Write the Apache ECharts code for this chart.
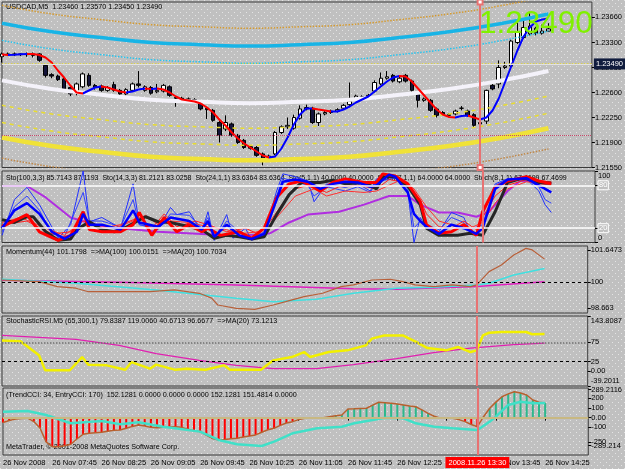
<!DOCTYPE html>
<html>
<head>
<meta charset="utf-8">
<script src="https://cdn.jsdelivr.net/npm/echarts@6/dist/echarts.min.js"></script>
<style>
html, body { margin: 0; padding: 0; background: #c0c0c0; }
#chart { width: 625px; height: 469px; }
</style>
</head>
<body>
<div id="chart"></div>
<script>
var FONT = 'Liberation Sans';

// time axis: 5 minute bars from 07:05
var cats = [];
for (var i = 0; i < 96; i++) {
    var m = 7 * 60 + 5 + 5 * i;
    cats.push(('0' + Math.floor(m / 60)).slice(-2) + ':' + ('0' + (m % 60)).slice(-2));
}
var timeTicks = ['26 Nov 2008', '26 Nov 07:45', '26 Nov 08:25', '26 Nov 09:05', '26 Nov 09:45', '26 Nov 10:25',
    '26 Nov 11:05', '26 Nov 11:45', '26 Nov 12:25', '26 Nov 13:05', '26 Nov 13:45', '26 Nov 14:25'];
var markBar = 77;   // 13:30 vertical line

// candles [open, close, low, high]
var ohlc = [
    [1.2310, 1.2314, 1.2302, 1.2316], [1.2314, 1.2313, 1.2311, 1.2316], [1.2313, 1.2314, 1.2311, 1.2316],
    [1.2314, 1.2313, 1.2311, 1.2315], [1.2313, 1.2314, 1.2310, 1.2316], [1.2314, 1.2312, 1.2309, 1.2316],
    [1.2314, 1.2305, 1.2303, 1.2315], [1.2298, 1.2284, 1.2281, 1.2300], [1.2285, 1.2283, 1.2280, 1.2287],
    [1.2283, 1.2278, 1.2276, 1.2285], [1.2279, 1.2265, 1.2262, 1.2281], [1.2267, 1.2258, 1.2255, 1.2269],
    [1.2259, 1.2272, 1.2256, 1.2274], [1.2268, 1.2286, 1.2266, 1.2288], [1.2284, 1.2270, 1.2268, 1.2287],
    [1.2270, 1.2267, 1.2264, 1.2272], [1.2269, 1.2263, 1.2261, 1.2271], [1.2263, 1.2267, 1.2261, 1.2269],
    [1.2271, 1.2263, 1.2261, 1.2275], [1.2263, 1.2258, 1.2256, 1.2265], [1.2258, 1.2264, 1.2256, 1.2266],
    [1.2263, 1.2272, 1.2261, 1.2274], [1.2272, 1.2270, 1.2267, 1.2290], [1.2263, 1.2268, 1.2261, 1.2270],
    [1.2267, 1.2259, 1.2257, 1.2269], [1.2261, 1.2263, 1.2259, 1.2272], [1.2262, 1.2270, 1.2260, 1.2272],
    [1.2268, 1.2256, 1.2254, 1.2270], [1.2253, 1.2252, 1.2240, 1.2255], [1.2252, 1.2250, 1.2248, 1.2254],
    [1.2250, 1.2251, 1.2248, 1.2253], [1.2250, 1.2248, 1.2246, 1.2252], [1.2247, 1.2237, 1.2235, 1.2249],
    [1.2238, 1.2236, 1.2223, 1.2240], [1.2235, 1.2221, 1.2219, 1.2237], [1.2218, 1.2200, 1.2190, 1.2220],
    [1.2209, 1.2218, 1.2206, 1.2228], [1.2216, 1.2200, 1.2198, 1.2218], [1.2200, 1.2190, 1.2188, 1.2202],
    [1.2193, 1.2183, 1.2181, 1.2195], [1.2184, 1.2182, 1.2180, 1.2186], [1.2183, 1.2172, 1.2170, 1.2185],
    [1.2174, 1.2167, 1.2158, 1.2176], [1.2169, 1.2171, 1.2165, 1.2173], [1.2174, 1.2204, 1.2172, 1.2206],
    [1.2204, 1.2212, 1.2202, 1.2214], [1.2212, 1.2214, 1.2209, 1.2225], [1.2210, 1.2225, 1.2208, 1.2229],
    [1.2224, 1.2237, 1.2222, 1.2242], [1.2237, 1.2239, 1.2235, 1.2243], [1.2238, 1.2218, 1.2216, 1.2240],
    [1.2218, 1.2230, 1.2213, 1.2232], [1.2230, 1.2232, 1.2228, 1.2234], [1.2232, 1.2234, 1.2230, 1.2236],
    [1.2234, 1.2236, 1.2232, 1.2238], [1.2238, 1.2242, 1.2236, 1.2244], [1.2243, 1.2248, 1.2241, 1.2274],
    [1.2251, 1.2255, 1.2249, 1.2257], [1.2254, 1.2252, 1.2250, 1.2256], [1.2252, 1.2256, 1.2250, 1.2258],
    [1.2262, 1.2274, 1.2260, 1.2277], [1.2272, 1.2280, 1.2270, 1.2288], [1.2280, 1.2282, 1.2278, 1.2290],
    [1.2284, 1.2276, 1.2274, 1.2286], [1.2275, 1.2280, 1.2273, 1.2282], [1.2284, 1.2276, 1.2274, 1.2286],
    [1.2276, 1.2263, 1.2261, 1.2278], [1.2258, 1.2249, 1.2239, 1.2260], [1.2249, 1.2251, 1.2247, 1.2253],
    [1.2249, 1.2235, 1.2233, 1.2251], [1.2237, 1.2228, 1.2225, 1.2239], [1.2232, 1.2230, 1.2228, 1.2234],
    [1.2229, 1.2228, 1.2226, 1.2231], [1.2230, 1.2234, 1.2228, 1.2236], [1.2238, 1.2238, 1.2235, 1.2241],
    [1.2234, 1.2228, 1.2226, 1.2236], [1.2229, 1.2214, 1.2212, 1.2231], [1.2216, 1.2218, 1.2213, 1.2220],
    [1.2220, 1.2263, 1.2216, 1.2264], [1.2270, 1.2265, 1.2263, 1.2272], [1.2272, 1.2295, 1.2266, 1.2305],
    [1.2295, 1.2297, 1.2293, 1.2303], [1.2297, 1.2332, 1.2294, 1.2334], [1.2330, 1.2345, 1.2328, 1.2358],
    [1.2337, 1.2351, 1.2335, 1.2362], [1.2342, 1.2353, 1.2340, 1.2372], [1.2350, 1.2343, 1.2340, 1.2352],
    [1.2343, 1.2346, 1.2341, 1.2355], [1.2346, 1.2349, 1.2345, 1.2357]
];

// smoothed MA (red falling / blue rising)
var maLine = [
    1.23132, 1.23125, 1.23128, 1.23135, 1.23140, 1.23139, 1.23125, 1.23090, 1.23020, 1.22908,
    1.22810, 1.22698, 1.22600, 1.22586, 1.22628, 1.22670, 1.22684, 1.22670, 1.22642, 1.22614,
    1.22600, 1.22614, 1.22642, 1.22656, 1.22649, 1.22656, 1.22642, 1.22600, 1.22544, 1.22502,
    1.22488, 1.22474, 1.22446, 1.22390, 1.22320, 1.22222, 1.22138, 1.22040, 1.21956, 1.21886,
    1.21830, 1.21774, 1.21718, 1.21690, 1.21704, 1.21816, 1.21970, 1.22152, 1.22292, 1.22376,
    1.22376, 1.22362, 1.22348, 1.22334, 1.22334, 1.22362, 1.22404, 1.22460, 1.22502, 1.22544,
    1.22614, 1.22684, 1.22754, 1.22810, 1.22831, 1.22824, 1.22754, 1.22656, 1.22558, 1.22460,
    1.22362, 1.22292, 1.22257, 1.22250, 1.22271, 1.22278, 1.22250, 1.22222, 1.22250, 1.22348,
    1.22516, 1.22740, 1.22964, 1.23188, 1.23384, 1.23510, 1.23594, 1.23622, 1.23636
];

// regression channel lines, read at every 8th bar
var bandIdx = [0, 8, 16, 24, 32, 40, 48, 56, 64, 72, 80, 88];
var bandTop = [1.2382, 1.2370, 1.2362, 1.2355, 1.2352, 1.2350, 1.2352, 1.2355, 1.2362, 1.2370, 1.2381, 1.2395];
var bandCyan = [1.2357, 1.2345, 1.2337, 1.2330, 1.2327, 1.2325, 1.2327, 1.2330, 1.2337, 1.2345, 1.2356, 1.2370];
var bandCyanDot = [1.2333, 1.2321, 1.2313, 1.2306, 1.2303, 1.2301, 1.2303, 1.2306, 1.2313, 1.2321, 1.2332, 1.2346];
var bandMid = [1.2277, 1.2265, 1.2257, 1.2250, 1.2247, 1.2245, 1.2247, 1.2250, 1.2257, 1.2265, 1.2276, 1.2290];
var bandLowA = [1.2242, 1.2230, 1.2222, 1.2215, 1.2212, 1.2210, 1.2212, 1.2215, 1.2222, 1.2230, 1.2241, 1.2255];
var bandLowB = [1.2218, 1.2206, 1.2198, 1.2191, 1.2188, 1.2186, 1.2188, 1.2191, 1.2198, 1.2206, 1.2217, 1.2231];
var bandYellow = [1.2197, 1.2185, 1.2177, 1.2170, 1.2167, 1.2165, 1.2167, 1.2170, 1.2177, 1.2185, 1.2196, 1.2210];
var bandBottom = [1.2168, 1.2156, 1.2148, 1.2141, 1.2138, 1.2136, 1.2138, 1.2141, 1.2148, 1.2156, 1.2167, 1.2181];
var priceLevels = [1.2300, 1.2287, 1.2177];
var lastPrice = 1.23490;
var priceTicks = [1.2155, 1.2190, 1.2225, 1.2260, 1.2295, 1.2330, 1.2366];

// stochastics [bar, value]
var stoBlack = [[0,32],[2,28],[4,36],[5,36],[7,15],[9,3],[11,5],[12,18],[14,29],[16,18],[18,15],[20,22],[23,36],[25,29],[27,28],[30,22],[32,18],[34,6],[36,10],[38,8],[40,5],[42,8],[44,39],[46,67],[48,84],[51,84],[53,87],[55,82],[58,84],[60,75],[61,92],[63,92],[65,79],[67,53],[68,20],[70,10],[73,10],[75,13],[77,10],[79,43],[81,84],[83,89],[84,89],[86,84],[88,83]];
var stoRed = [[0,22],[4,39],[6,15],[9,3],[11,10],[13,43],[14,18],[16,15],[19,15],[21,25],[22,42],[24,10],[26,35],[28,15],[30,25],[32,15],[33,20],[35,10],[38,15],[40,6],[42,20],[44,63],[46,82],[48,86],[51,72],[53,84],[55,89],[58,84],[60,84],[61,96],[63,93],[65,82],[67,57],[68,25],[70,13],[72,15],[74,25],[76,10],[77,43],[79,77],[81,86],[84,92],[86,86],[88,82]];
var stoRed2 = [[0,25],[4,30],[8,12],[11,15],[13,35],[16,20],[19,25],[22,35],[24,20],[26,40],[28,22],[31,30],[33,25],[36,15],[39,20],[41,12],[43,30],[45,55],[47,75],[49,80],[52,70],[54,78],[57,80],[60,75],[62,88],[64,85],[66,70],[67,60],[68,40],[70,22],[72,20],[74,30],[76,18],[77,35],[79,65],[81,80],[84,88],[88,85]];
var stoRed3 = [[0,28],[3,35],[7,20],[10,10],[13,30],[15,25],[18,20],[21,30],[23,38],[25,25],[27,30],[30,28],[33,22],[36,18],[38,12],[41,15],[43,25],[45,45],[47,65],[50,75],[52,65],[55,72],[58,70],[60,72],[62,80],[64,88],[66,75],[68,50],[70,30],[72,25],[75,20],[77,28],[79,55],[81,75],[84,85],[88,80]];
var stoBlue = [[0,20],[2,45],[4,55],[6,40],[8,15],[10,5],[12,15],[13,40],[14,25],[16,25],[19,18],[21,45],[22,28],[25,22],[27,35],[30,30],[32,18],[33,30],[34,8],[36,25],[38,10],[40,5],[42,12],[44,60],[45,85],[47,88],[49,85],[51,75],[53,82],[55,85],[57,84],[59,78],[60,80],[62,95],[63,92],[65,70],[66,40],[67,30],[68,22],[70,12],[72,25],[74,20],[76,12],[77,20],[79,75],[81,88],[84,90],[86,80],[88,70]];
var stoBlue2 = [[0,10],[2,60],[4,77],[6,53],[9,6],[11,25],[13,100],[14,29],[16,35],[19,20],[21,82],[22,25],[25,20],[27,49],[28,39],[30,43],[32,15],[33,43],[34,3],[36,39],[37,6],[39,20],[40,3],[42,10],[44,72],[45,96],[47,92],[49,86],[50,57],[52,82],[55,77],[57,82],[59,72],[60,89],[63,92],[65,72],[66,0],[67,35],[68,20],[70,15],[72,42],[74,35],[75,15],[76,13],[77,39],[79,82],[81,89],[84,89],[86,72],[87,53],[88,42]];
var stoBlue3 = [[0,15],[2,50],[4,65],[6,45],[8,12],[10,8],[13,70],[14,30],[16,30],[19,22],[21,60],[22,25],[25,18],[27,40],[30,38],[32,20],[33,35],[34,5],[36,30],[38,15],[40,5],[42,15],[44,65],[45,90],[47,85],[49,80],[50,65],[52,78],[55,72],[57,78],[59,70],[60,85],[63,90],[65,75],[66,20],[67,30],[68,25],[70,18],[72,35],[74,28],[75,18],[77,25],[79,80],[81,88],[84,88],[86,78],[87,60],[88,55]];
var stoPurple = [[0,79],[4,79],[7,63],[11,35],[16,22],[19,20],[25,15],[32,12],[38,9],[43,13],[46,28],[49,39],[54,43],[58,53],[62,65],[65,65],[67,53],[70,42],[73,42],[76,36],[78,43],[81,72],[83,86],[86,86],[88,83]];
var stoLevels = [80, 20];

// momentum
var momMain = [[0,100.11],[6,100.03],[9,99.77],[12,99.69],[14,99.51],[19,99.51],[24,99.51],[28,99.60],[32,99.43],[34,99.18],[35,98.83],[38,98.66],[41,98.61],[44,98.83],[46,99.00],[49,99.26],[52,99.43],[55,99.77],[57,99.86],[60,100.11],[63,100.15],[65,100.03],[67,99.86],[70,99.77],[73,99.86],[76,99.77],[77,99.86],[79,100.54],[81,100.88],[83,101.39],[85,101.73],[86,101.65],[88,101.18]];
var momMA20 = [[0,100.15],[12,99.94],[25,99.60],[38,99.18],[44,99.00],[51,99.12],[57,99.43],[64,99.69],[70,99.74],[77,99.85],[79,99.94],[83,100.37],[88,100.70]];
var momMA100 = [[0,100.10],[19,100.00],[38,99.85],[57,99.66],[64,99.64],[77,99.78],[88,100.02]];

// stochastic RSI
var rsiYellow = [[0,80],[3,77.5],[6,41],[7,2],[11,2],[13,36.5],[14,16.6],[17,14.8],[20,3.5],[21,23.4],[24,6.1],[25,16.6],[28,3.5],[30,6.1],[33,3.5],[36,14.8],[37,3.5],[42,3.5],[44,27.8],[47,36.5],[49,49.5],[50,36.5],[53,49.5],[56,54],[59,67],[60,84.6],[62,93],[65,93],[67,77.5],[69,60],[72,54],[74,62.6],[76,49.5],[77,54],[78,93],[79,100],[81,102],[85,102],[86,96],[88,96.67]];
var rsiMA = [[0,93],[12,82.7],[19,67],[25,45.4],[32,27.8],[38,14.8],[44,6.1],[51,6.1],[57,16.6],[64,32.2],[70,48],[76,60],[83,68.9],[88,73.12]];

// CCI
var cciTrend = [
    -50, -30, -15, -8, -5, -40, -106, -250, -299, -300,
    -290, -274, -220, -171, -160, -155, -150, -140, -130, -127,
    -110, -90, -75, -85, -100, -103, -98, -95, -93, -100,
    -120, -135, -144, -180, -215, -230, -225, -218, -212, -200,
    -190, -178, -150, -125, -109, -80, -55, -41, -20, -6,
    -5, -3, 0, 10, 20, 28, 90, 92, 95, 97,
    130, 159, 155, 148, 140, 130, 120, 113, 80, 45,
    15, -6, -6, -6, -20, -41, -70, -93, 10, 97,
    160, 216, 245, 268, 255, 234, 182, 160, 152.13
];
var cciEntry = [[0,62],[4,69],[7,28],[11,-58],[16,-34],[19,-68],[22,-47],[26,-93],[32,-144],[35,-230],[38,-274],[42,-292],[44,-247],[47,-161],[51,-109],[55,-93],[57,-58],[60,-24],[62,0],[65,-6],[67,-58],[70,-93],[73,-109],[77,-127],[79,-41],[80,10],[82,131],[84,165],[86,148],[88,151.48]];

// ---------------------------------------------------------------
var pat = document.createElement('canvas');
pat.width = 6; pat.height = 6;
var pctx = pat.getContext('2d');
pctx.fillStyle = '#c0c0c0'; pctx.fillRect(0, 0, 6, 6);
pctx.fillStyle = '#e4e4e4'; pctx.fillRect(0, 0, 1, 1); pctx.fillRect(3, 3, 1, 1);

var grids = [
    {top: 2, height: 165.5},
    {top: 171, height: 71.5},
    {top: 246, height: 67},
    {top: 316, height: 70},
    {top: 388, height: 67}
].map(function (g) {
    return {left: 2, width: 593, top: g.top, height: g.height, show: true,
        borderColor: '#3a3a3a', borderWidth: 1, backgroundColor: 'transparent'};
});

var labelStyle = {fontSize: 7.5, fontFamily: FONT, color: '#000'};

var xAxes = grids.map(function (g, k) {
    var bottom = k === 4;
    var every8 = function (idx) { return idx % 8 === 0 && idx <= 88; };
    return {
        type: 'category', gridIndex: k, data: cats, boundaryGap: false,
        axisLine: {show: false},
        axisTick: {show: bottom, interval: every8, length: 3, lineStyle: {color: '#000'}},
        axisLabel: {show: bottom, interval: every8, align: 'left', margin: 4,
            fontSize: 7.5, fontFamily: FONT, color: '#000',
            formatter: function (v, idx) { return timeTicks[idx / 8]; }},
        splitLine: {show: false}
    };
});

function yAx(k, min, max, tickVals, labelVals, fmt) {
    return {
        type: 'value', gridIndex: k, position: 'right', min: min, max: max,
        axisLine: {show: false}, splitLine: {show: false},
        axisTick: {show: true, length: 3, lineStyle: {color: '#000'}, customValues: tickVals},
        axisLabel: Object.assign({margin: 3, hideOverlap: false, customValues: labelVals, formatter: fmt}, labelStyle)
    };
}
function near(v, x) { return Math.abs(v - x) < 1e-6; }

// edge labels sit a few pixels inside the panel, as in the terminal
var stoLabelPos = [6.5, 93.5];
var rsiLabelPos = [-27.2, 0, 25, 75, 131.8];

var yAxes = [
    yAx(0, 1.2155, 1.23867, priceTicks, priceTicks, function (v) { return v.toFixed(5); }),
    yAx(1, 0, 100, [0, 20, 80, 100], stoLabelPos, function (v) { return v > 50 ? '100' : '0'; }),
    yAx(2, 98.42, 101.852, [98.663, 100, 101.6473], [98.663, 100, 101.6473], function (v) { return near(v, 100) ? '100' : String(v); }),
    yAx(3, -39.2011, 143.8087, [-39.2011, 0, 25, 75, 143.8087], rsiLabelPos, function (v) {
        if (near(v, 131.8)) return '143.8087';
        if (near(v, -27.2)) return '-39.2011';
        return near(v, 0) ? '0.00' : String(v);
    }),
    yAx(4, -385, 306, [-300, -289.214, -250, -100, 0, 100, 200, 289.2116], [-300, -289.214, -250, -100, 0, 100, 200, 289.2116], function (v) {
        return near(v, 0) ? '0.00' : String(v);
    })
];

function pairs(idx, vals) { return idx.map(function (x, i) { return [x, vals[i]]; }); }
function line(k, data, color, width, extra) {
    return Object.assign({
        type: 'line', xAxisIndex: k, yAxisIndex: k, data: data, symbol: 'none',
        lineStyle: {color: color, width: width}, silent: true
    }, extra || {});
}
var redLine = {color: '#e87272', width: 2, type: 'solid'};
var levelLabel = {show: true, position: 'end', distance: 3, formatter: '{c}',
    fontSize: 7.5, fontFamily: FONT, color: '#ffffff', borderColor: '#ffffff', borderWidth: 1, padding: [1, 1, 0, 1]};

// MA colour pieces from the direction of each segment
var maPieces = [];
for (var j = 0; j < maLine.length - 1; j++) {
    maPieces.push({gt: j, lte: j + 1, color: maLine[j + 1] < maLine[j] ? '#ff0000' : '#0000ff'});
}
maPieces[0] = {gte: 0, lte: 1, color: maPieces[0].color};

var series = [
    line(0, pairs(bandIdx, bandTop), '#d49a30', 1.5, {smooth: true, lineStyle: {color: '#d49a30', width: 1.5, type: 'dotted'}}),
    line(0, pairs(bandIdx, bandCyan), '#18b4e6', 3.5, {smooth: true}),
    line(0, pairs(bandIdx, bandCyanDot), '#28c4ee', 1.5, {smooth: true, lineStyle: {color: '#28c4ee', width: 1.5, type: 'dotted'}}),
    line(0, pairs(bandIdx, bandMid), '#f4f2fa', 4, {smooth: true,
        markLine: {silent: true, symbol: 'none', label: {show: false}, data: [
            {yAxis: priceLevels[0], lineStyle: {color: '#9a3fa8', width: 1, type: 'solid'}},
            {yAxis: priceLevels[1], lineStyle: {color: '#e2d42c', width: 1.5, type: 'dotted'}},
            {yAxis: priceLevels[2], lineStyle: {color: '#c8486a', width: 1, type: 'dotted'}},
            {yAxis: lastPrice, lineStyle: {color: '#e2e2e2', width: 1, type: 'solid'},
                label: {show: true, position: 'end', distance: 2, formatter: '1.23490',
                    backgroundColor: '#101c3e', color: '#ffffff', padding: [2, 2, 1, 2],
                    fontSize: 7.5, fontFamily: FONT}}
        ]}}),
    line(0, pairs(bandIdx, bandLowA), '#e8dc30', 1.5, {smooth: true, lineStyle: {color: '#e8dc30', width: 1.5, type: [4, 4]}}),
    line(0, pairs(bandIdx, bandLowB), '#e8dc30', 1.5, {smooth: true, lineStyle: {color: '#e8dc30', width: 1.5, type: [4, 4]}}),
    line(0, pairs(bandIdx, bandYellow), '#f0e238', 4.5, {smooth: true}),
    line(0, pairs(bandIdx, bandBottom), '#c08848', 1.5, {smooth: true, lineStyle: {color: '#c08848', width: 1.5, type: 'dotted'}}),
    {
        type: 'candlestick', xAxisIndex: 0, yAxisIndex: 0, data: ohlc, barWidth: 4, silent: true,
        itemStyle: {color: '#ffffff', color0: '#14143a', borderColor: '#000000', borderColor0: '#000000', borderWidth: 1},
        markLine: {silent: true, symbol: ['emptyRect', 'emptyRect'], symbolSize: 5, label: {show: false},
            lineStyle: redLine, data: [{xAxis: cats[markBar]}]}
    },
    {type: 'line', xAxisIndex: 0, yAxisIndex: 0, data: maLine, symbol: 'none', silent: true, lineStyle: {width: 2}},

    // stochastic panel
    line(1, stoPurple, '#b02ee0', 2, {markLine: {silent: true, symbol: 'none', label: {show: false}, data: [
        {yAxis: stoLevels[0], lineStyle: {color: '#ffffff', width: 1.5, type: 'solid'}, label: levelLabel},
        {yAxis: stoLevels[1], lineStyle: {color: '#ffffff', width: 1.5, type: 'solid'}, label: levelLabel},
        {xAxis: cats[markBar], lineStyle: redLine}
    ]}}),
    line(1, stoBlue2, '#2030ff', 1),
    line(1, stoBlue3, '#3040ff', 1),
    line(1, stoRed2, '#ff2020', 1),
    line(1, stoRed3, '#ff3030', 1),
    line(1, stoBlack, '#262626', 3),
    line(1, stoRed, '#ff0000', 3),
    line(1, stoBlue, '#0000ff', 2.5),

    // momentum panel
    line(2, momMA100, '#e020c0', 1.5, {markLine: {silent: true, symbol: 'none', label: {show: false}, data: [
        {yAxis: 100, lineStyle: {color: '#000', width: 1, type: [3, 3]}},
        {xAxis: cats[markBar], lineStyle: redLine}
    ]}}),
    line(2, momMA20, '#40e0e0', 1.5),
    line(2, momMain, '#b8603a', 1.2),

    // stochastic RSI panel
    line(3, rsiMA, '#e020b0', 1.2, {markLine: {silent: true, symbol: 'none', label: {show: false}, data: [
        {yAxis: 75, lineStyle: {color: '#707070', width: 1.5, type: 'dotted'}},
        {yAxis: 25, lineStyle: {color: '#000', width: 1, type: [3, 3]}},
        {xAxis: cats[markBar], lineStyle: redLine}
    ]}}),
    line(3, rsiYellow, '#f2f000', 2.5),

    // CCI panel
    {
        type: 'bar', xAxisIndex: 4, yAxisIndex: 4, data: cciTrend, barWidth: 2, silent: true,
        itemStyle: {color: function (p) { return p.value < 0 ? '#ff0000' : '#2cb88c'; }},
        markLine: {silent: true, symbol: 'none', data: [
            {yAxis: 0, lineStyle: {color: '#c8b882', width: 2, type: 'solid'}, label: {show: false}},
            {xAxis: cats[markBar], lineStyle: redLine,
                label: {show: true, position: 'start', distance: 2, formatter: '2008.11.26 13:30',
                    backgroundColor: '#ff0000', color: '#ffffff', padding: [2, 3, 1, 3],
                    fontSize: 7.5, fontFamily: FONT}}
        ]}
    },
    line(4, cciTrend, '#b8602e', 1.5),
    line(4, cciEntry, '#40e0c8', 2.5)
];

var hdr = function (text, top, size) {
    return {text: text, left: 6, top: top, z: 1, padding: 0,
        textStyle: {fontSize: size || 7.2, fontFamily: FONT, fontWeight: 'normal', color: '#000'}};
};

var option = {
    animation: false,
    backgroundColor: {image: pat, repeat: 'repeat'},
    title: [
        hdr('USDCAD,M5  1.23460 1.23570 1.23450 1.23490', 4),
        hdr('Sto(100,3,3) 85.7143 87.1193  Sto(14,3,3) 81.2121 83.0258  Sto(24,1,1) 83.6364 83.6364  Sto(5,1,1) 40.0000 40.0000  Stoch(7,1,1) 64.0000 64.0000  Stoch(8,1,1) 67.4699 67.4699', 175, 7),
        hdr('Momentum(44) 101.1798  =>MA(100) 100.0151  =>MA(20) 100.7034', 249),
        hdr('StochasticRSI.M5 (65,300,1) 79.8387 119.0060 40.6713 96.6677  =>MA(20) 73.1213', 318),
        hdr('(TrendCCI: 34, EntryCCI: 170)  152.1281 0.0000 0.0000 0.0000 152.1281 151.4814 0.0000', 392),
        hdr('MetaTrader, \u00a9 2001-2008 MetaQuotes Software Corp.', 444),
        {text: '1.23490', left: 479, top: 8, z: 10, padding: 0,
            textStyle: {fontSize: 31.5, fontFamily: FONT, fontWeight: 'normal', color: '#80f000'}}
    ],
    grid: grids,
    xAxis: xAxes,
    yAxis: yAxes,
    visualMap: [{type: 'piecewise', show: false, dimension: 0, seriesIndex: 9, pieces: maPieces}],
    series: series
};

var chart = echarts.init(document.getElementById('chart'));
chart.setOption(option);
</script>
</body>
</html>
